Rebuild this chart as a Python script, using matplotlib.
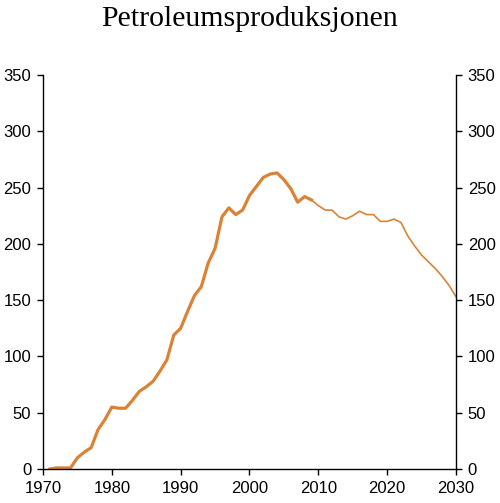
import matplotlib.pyplot as plt

# historical production (thick) and projection (thin)
years_hist = list(range(1971, 2010))
prod_hist = [0, 1, 1, 1, 10, 15, 19, 35, 44, 55, 54, 54, 61, 69, 73, 78, 87, 97,
             119, 125, 140, 154, 162, 183, 196, 224, 232, 226, 230, 243, 251, 259,
             262, 263, 257, 249, 237, 242, 239]
years_proj = list(range(2009, 2031))
prod_proj = [239, 234, 230, 230, 224, 222, 225, 229, 226, 226, 220, 220, 222, 219,
             207, 198, 190, 184, 178, 171, 163, 153]

line_col = '#DA8337'

plt.rcParams['font.family'] = ['Liberation Sans', 'DejaVu Sans']
fig = plt.figure(figsize=(5.0, 5.03), dpi=100)
ax = fig.add_axes([43/500, 34/503, 413/500, 394/503])

ax.plot(years_hist, prod_hist, color=line_col, lw=2.3, solid_joinstyle='round')
ax.plot(years_proj, prod_proj, color=line_col, lw=1.2, solid_joinstyle='round')

ax.set_xlim(1970, 2030)
ax.set_ylim(0, 350)
ax.set_xticks(range(1970, 2031, 10))
ax.set_yticks(range(0, 351, 50))
ax.set_yticks([350], minor=True)
ax.spines['top'].set_visible(False)
for s in ['left', 'right', 'bottom']:
    ax.spines[s].set_linewidth(1.0)
ax.tick_params(axis='both', which='major', direction='out', length=4.5, width=1.0,
               labelsize=12, pad=4)
ax.tick_params(axis='y', which='both', right=True, labelright=True)
ax.tick_params(axis='y', which='minor', direction='in', length=9, width=1.0)

fig.text(0.5, 1 - 26/503, 'Petroleumsproduksjonen', ha='center', va='baseline',
         fontsize=21.5, family=['Liberation Serif', 'DejaVu Serif'])

fig.savefig('out.png', dpi=100)
